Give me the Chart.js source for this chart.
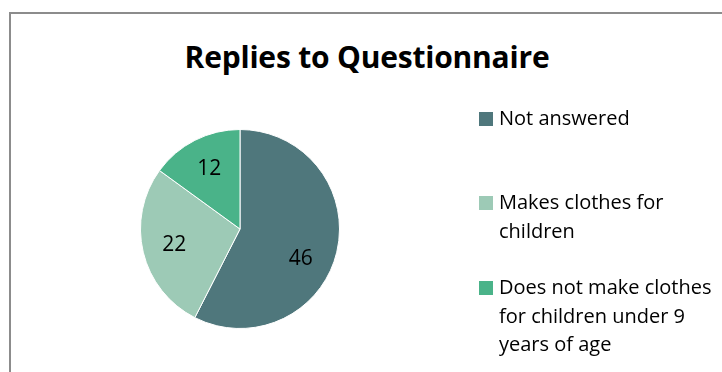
<!DOCTYPE html>
<html>
<head>
<meta charset="utf-8">
<script src="https://cdn.jsdelivr.net/npm/chart.js@4"></script>
<style>
  body { margin: 0; background: #fff; }
  #wrap { position: relative; width: 722px; height: 372px; overflow: hidden; font-family: "Open Sans", Lato, sans-serif; }
  #frame { position: absolute; left: 9px; top: 12px; width: 740px; height: 400px; border: 2px solid #8c8c8c; box-sizing: border-box; }
  #title { position: absolute; left: 117px; width: 500px; top: 36px; text-align: center; font-size: 30px; font-weight: bold; color: #000; letter-spacing: -0.2px; }
  #legend { position: absolute; left: 479px; top: 0; }
  .item { position: absolute; left: 0; display: flex; align-items: flex-start; }
  .box { width: 14px; height: 14px; margin-top: 8px; margin-right: 6px; flex: none; }
  .txt { width: 226px; font-size: 20px; line-height: 28.7px; color: #000; }
  canvas { position: absolute; left: 0; top: 0; }
</style>
</head>
<body>
<div id="wrap">
  <div id="frame"></div>
  <div id="title">Replies to Questionnaire</div>
  <canvas id="pie" width="722" height="372"></canvas>
  <div id="legend"></div>
</div>
<script>
// chart data
const categories = ['Not answered', 'Makes clothes for children', 'Does not make clothes for children under 9 years of age'];
const replies = [46, 22, 12];
const colors = ['#4f777c', '#9dcab6', '#4ab389'];

// legend item tops (px) so the items spread like the original
const legendTops = [104, 188, 273];

// build the HTML legend from the arrays
const legend = document.getElementById('legend');
categories.forEach(function (name, i) {
  const item = document.createElement('div');
  item.className = 'item';
  item.style.top = legendTops[i] + 'px';
  item.innerHTML = '<div class="box" style="background:' + colors[i] + '"></div><div class="txt">' + name + '</div>';
  legend.appendChild(item);
});

// draws the value inside each slice
const sliceLabels = {
  id: 'sliceLabels',
  afterDatasetsDraw(chart) {
    const ctx = chart.ctx;
    const meta = chart.getDatasetMeta(0);
    ctx.save();
    ctx.font = '21px "Open Sans", Lato, sans-serif';
    ctx.fillStyle = '#000';
    ctx.textAlign = 'center';
    ctx.textBaseline = 'middle';
    meta.data.forEach(function (arc, i) {
      const p = arc.getProps(['x', 'y', 'startAngle', 'endAngle', 'outerRadius'], true);
      const mid = (p.startAngle + p.endAngle) / 2 + (i === 0 ? 0.22 : 0);
      const r = p.outerRadius * 0.68;
      ctx.fillText(String(replies[i]), p.x + Math.cos(mid) * r, p.y + Math.sin(mid) * r);
    });
    ctx.restore();
  }
};

const ctx = document.getElementById('pie').getContext('2d');
const chart = new Chart(ctx, {
  type: 'pie',
  data: {
    labels: categories,
    datasets: [{
      data: replies,
      backgroundColor: colors,
      borderColor: '#ffffff',
      borderWidth: 1
    }]
  },
  options: {
    responsive: false,
    animation: false,
    layout: { padding: { left: 140, top: 129, right: 382, bottom: 43 } },
    plugins: {
      legend: { display: false },
      title: { display: false },
      tooltip: { enabled: false }
    }
  },
  plugins: [sliceLabels]
});
</script>
</body>
</html>
